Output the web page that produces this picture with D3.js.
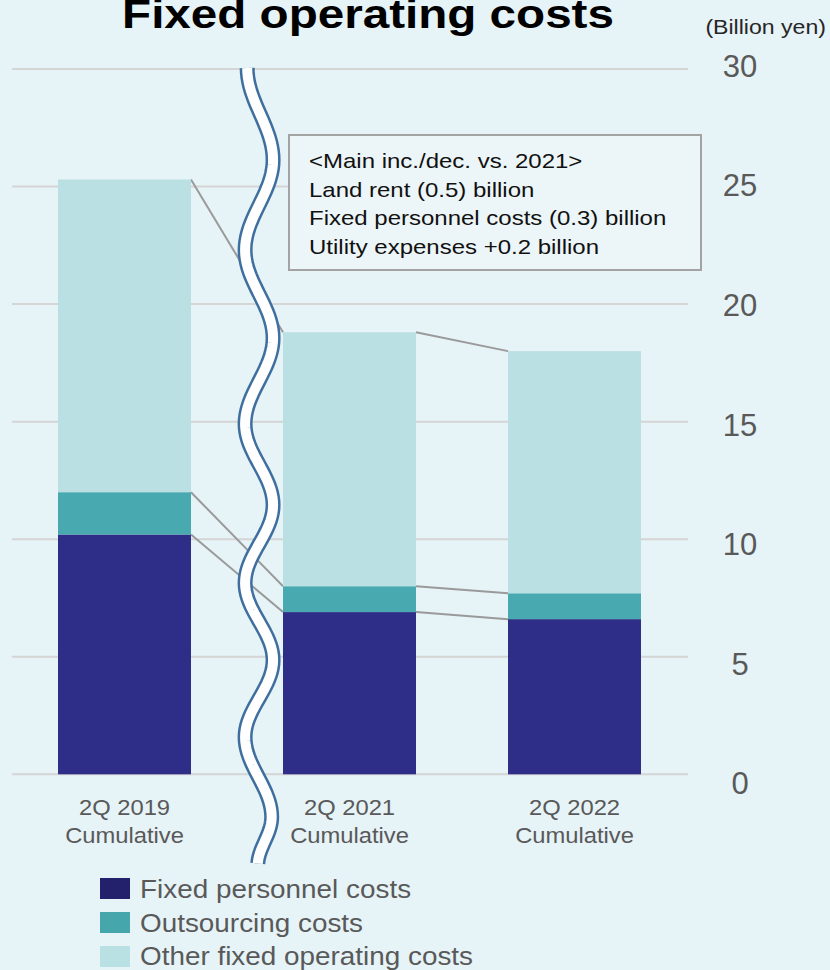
<!DOCTYPE html>
<html>
<head>
<meta charset="utf-8">
<script src="https://cdn.jsdelivr.net/npm/d3@7"></script>
<style>
  html, body { margin: 0; padding: 0; background: #e6f3f7; }
  svg { display: block; }
  text { font-family: "Liberation Sans", Arial, sans-serif; }
</style>
</head>
<body>
<svg id="chart" width="830" height="970"></svg>
<script>
// Fixed operating costs by period (billion yen)
const categories = ["2Q 2019|Cumulative", "2Q 2021|Cumulative", "2Q 2022|Cumulative"];
const seriesNames = ["Fixed personnel costs", "Outsourcing costs", "Other fixed operating costs"];
const personnel = [10.2, 6.9, 6.6];
const outsourcing = [1.8, 1.1, 1.1];
const otherFixed = [13.3, 10.8, 10.3];
const yTicks = [0, 5, 10, 15, 20, 25, 30];
const noteLines = [
  "<Main inc./dec. vs. 2021>",
  "Land rent (0.5) billion",
  "Fixed personnel costs (0.3) billion",
  "Utility expenses +0.2 billion"
];

const barColors = ["#2e2d87", "#48a9b0", "#bbe0e3"];
const legendColors = ["#23216b", "#45a6ac", "#b9e0e2"];
const textGray = "#595959";

const svg = d3.select("#chart");
svg.append("rect").attr("width", 830).attr("height", 970).attr("fill", "#e6f3f7");

const x = d3.scaleBand().domain(categories).range([12, 687]).paddingInner(0.409).paddingOuter(0.2045);
const y = d3.scaleLinear().domain([0, 30]).range([774.3, 69]);
// tick labels sit a little below their gridline near zero, a little above near the top
const yLabel = d3.scaleLinear().domain([0, 30]).range([y(0) + 9, y(30) - 3]);

// horizontally stretched text helper
function stretchText(g, str, tx, ty, size, sx, opts = {}) {
  return g.append("text")
    .attr("transform", `translate(${tx},${ty}) scale(${sx},1)`)
    .attr("font-size", size)
    .attr("font-weight", opts.weight || "normal")
    .attr("fill", opts.fill || "#000")
    .attr("text-anchor", opts.anchor || "start")
    .text(str);
}

// gridlines
svg.append("g").selectAll("line").data(yTicks).join("line")
  .attr("x1", 12).attr("x2", 688)
  .attr("y1", d => y(d)).attr("y2", d => y(d))
  .attr("stroke", "#d5d5d5").attr("stroke-width", 2);

// tick labels on the right
svg.append("g").selectAll("text").data(yTicks).join("text")
  .attr("x", 740).attr("y", d => yLabel(d))
  .attr("dy", "0.35em")
  .attr("text-anchor", "middle")
  .attr("font-size", 31)
  .attr("fill", textGray)
  .text(d => d);

// stacked data
const rows = categories.map((c, i) => ({ cat: c, p: personnel[i], o: outsourcing[i], f: otherFixed[i] }));
const stack = d3.stack().keys(["p", "o", "f"])(rows);

// connector lines between adjacent bars at each stack boundary
const conn = svg.append("g").attr("stroke", "#9a9a9a").attr("stroke-width", 2);
stack.forEach(layer => {
  for (let i = 0; i < rows.length - 1; i++) {
    conn.append("line")
      .attr("x1", x(rows[i].cat) + x.bandwidth())
      .attr("y1", y(layer[i][1]))
      .attr("x2", x(rows[i + 1].cat))
      .attr("y2", y(layer[i + 1][1]));
  }
});

// bars
svg.append("g").selectAll("g").data(stack).join("g")
  .attr("fill", (d, i) => barColors[i])
  .selectAll("rect").data(d => d).join("rect")
  .attr("x", d => x(d.data.cat))
  .attr("width", x.bandwidth())
  .attr("y", d => y(d[1]))
  .attr("height", d => y(d[0]) - y(d[1]));

// wavy axis-break between the first and second bar
(function drawBreak() {
  const gapL = x(categories[0]) + x.bandwidth();
  const gapR = x(categories[1]);
  const cx = gapL + (gapR - gapL) * 0.74;
  const amp = 14;
  const top = 68, bottom = 866;
  // extremes: side (-1 left, +1 right) and their vertical positions
  const ys = [top, 160, 250, 338, 424, 505, 583, 660, 737, 817, bottom];
  const sides = [-0.85, 1, -1, 1, -1, 1, -1, 1, -1, 0.9, -0.1];
  const pts = [];
  for (let k = 0; k < ys.length - 1; k++) {
    const x0 = cx + sides[k] * amp, x1 = cx + sides[k + 1] * amp;
    for (let t = 0; t <= 1; t += 0.05) {
      const e = (1 - Math.cos(Math.PI * t)) / 2;
      pts.push([x0 + (x1 - x0) * e, ys[k] + (ys[k + 1] - ys[k]) * t]);
    }
  }
  const line = d3.line().curve(d3.curveLinear);
  svg.append("path").attr("d", line(pts)).attr("fill", "none")
    .attr("stroke", "#3f6f9f").attr("stroke-width", 15).attr("stroke-linecap", "butt");
  svg.append("path").attr("d", line(pts)).attr("fill", "none")
    .attr("stroke", "#ffffff").attr("stroke-width", 10).attr("stroke-linecap", "butt");
})();

// category labels
const catG = svg.append("g");
categories.forEach(c => {
  const cx = x(c) + x.bandwidth() / 2;
  const parts = c.split("|");
  parts.forEach((p, j) => {
    stretchText(catG, p, cx, 815 + j * 28, 22, 1.08, { fill: textGray, anchor: "middle" });
  });
});

// annotation box
const note = svg.append("g");
note.append("rect").attr("x", 289).attr("y", 135).attr("width", 412).attr("height", 135)
  .attr("fill", "#ecf5f7").attr("stroke", "#a3a3a3").attr("stroke-width", 2);
noteLines.forEach((t, i) => {
  stretchText(note, t, 309, 168 + i * 28.5, 20, 1.2, { fill: "#111" });
});

// title and unit
stretchText(svg, "Fixed operating costs", 368, 28, 40, 1.19, { weight: "bold", anchor: "middle" });
stretchText(svg, "(Billion yen)", 826, 34, 21, 1.1, { fill: "#262626", anchor: "end" });

// legend
const leg = svg.append("g");
seriesNames.forEach((s, i) => {
  leg.append("rect").attr("x", 100).attr("y", 878 + i * 34).attr("width", 30).attr("height", 21)
    .attr("fill", legendColors[i]);
  stretchText(leg, s, 140, 898 + i * 33.5, 25, 1.115, { fill: textGray });
});
</script>
</body>
</html>
